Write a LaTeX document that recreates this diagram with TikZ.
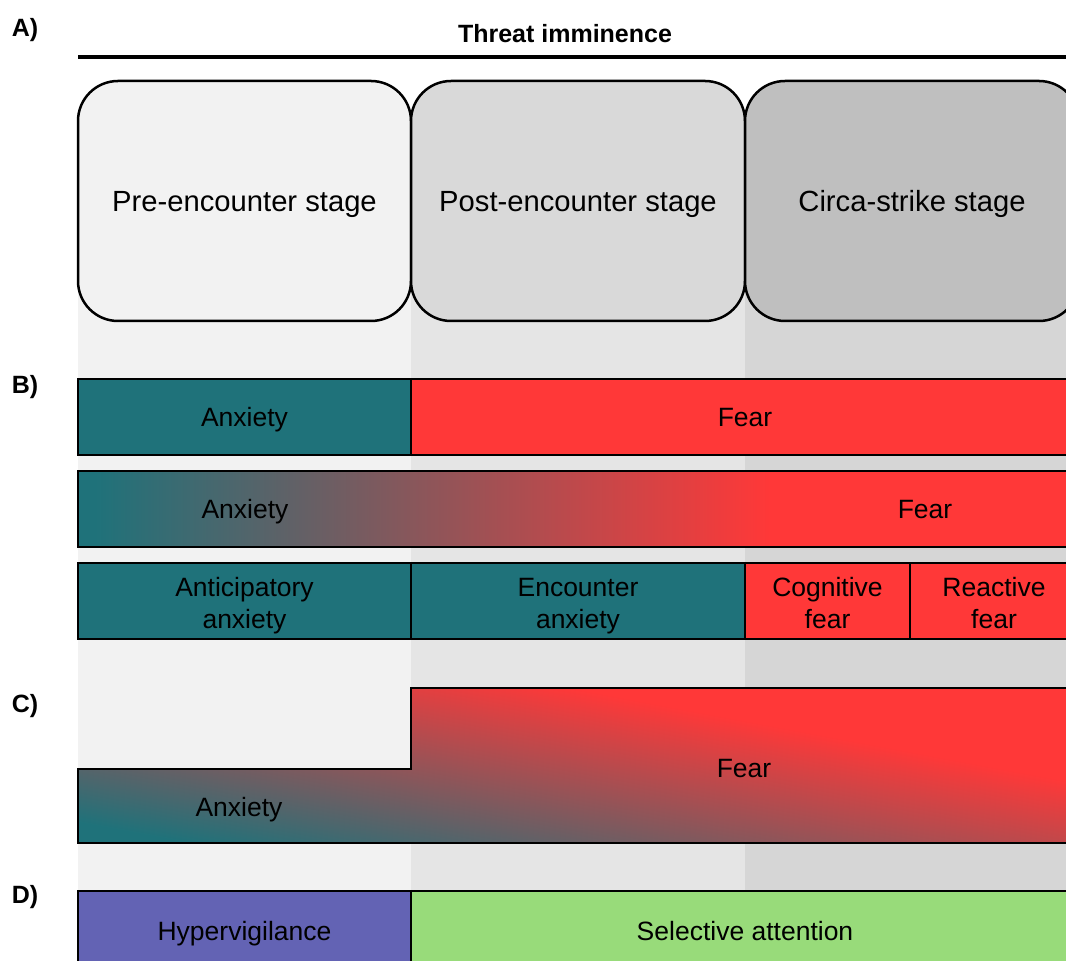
\documentclass[tikz,border=0pt]{standalone}
\usepackage{fontspec}
\setmainfont{Liberation Sans}
\usetikzlibrary{arrows.meta}
\definecolor{tealc}{RGB}{31,114,122}
\definecolor{redc}{RGB}{255,56,56}
\definecolor{purplec}{RGB}{99,99,180}
\definecolor{greenc}{RGB}{152,219,122}
\definecolor{bgA}{RGB}{242,242,242}
\definecolor{bgB}{RGB}{229,229,229}
\definecolor{bgC}{RGB}{214,214,214}
\definecolor{stA}{RGB}{242,242,242}
\definecolor{stB}{RGB}{217,217,217}
\definecolor{stC}{RGB}{191,191,191}
\begin{document}
\begin{tikzpicture}[x=1pt,y=1pt,
  stagebox/.style={draw=black, line width=2.5, rounded corners=40, minimum height=240, inner sep=0, text depth=0pt, font=\fontsize{29.2}{34}\selectfont},
  bar/.style={draw=black, line width=2.5, minimum height=76, inner sep=0, text depth=0pt, align=center, font=\fontsize{26.5}{31.7}\selectfont},
  twoline/.style={text height=54.5pt},
  lbl/.style={font=\fontsize{26.5}{32}\selectfont, inner sep=0, text depth=0pt},
  panel/.style={font=\bfseries\fontsize{25}{30}\selectfont, inner sep=0},
  edge/.style={draw=black, line width=2.5}]
\useasboundingbox (0,0) rectangle (1066,961);
% column backgrounds
\fill[bgA] (78,0) rectangle (411,760);
\fill[bgB] (411,0) rectangle (745,760);
\fill[bgC] (745,0) rectangle (1066,760);
% threat imminence axis
\coordinate (ts) at (78,904);
\coordinate (te) at (1084,904);
\draw[line width=3.5, -{Triangle[length=18,width=16]}] (ts) -- (te);
\node[panel] (thr) at (565,927) {Threat imminence};
% A) stages
\node[stagebox, fill=stA, minimum width=333] (pre) at (244.5,760) {Pre-encounter stage};
\node[stagebox, fill=stB, minimum width=334] (post) at (578,760) {Post-encounter stage};
\node[stagebox, fill=stC, minimum width=334] (circa) at (912,760) {Circa-strike stage};
% B) row 1
\node[bar, fill=tealc, minimum width=333] (b1a) at (244.5,544) {Anxiety};
\node[bar, fill=redc, minimum width=668] (b1f) at (745,544) {Fear};
% B) row 2
\begin{scope}
\clip (78,414) rectangle (1079,490);
\fill[redc] (78,414) rectangle (1079,490);
\fill[tealc] (78,414) rectangle (96,490);
\shade[left color=tealc, right color=redc] (95,414) rectangle (770,490);
\end{scope}
\draw[edge] (78,414) rectangle (1079,490);
\node[lbl] (b2a) at (245,452) {Anxiety};
\node[lbl] (b2f) at (925,452) {Fear};
% B) row 3
\node[bar, twoline, fill=tealc, minimum width=333] (b3a) at (244.5,360) {Anticipatory\\anxiety};
\node[bar, twoline, fill=tealc, minimum width=334] (b3b) at (578,360) {Encounter\\anxiety};
\node[bar, twoline, fill=redc, minimum width=165] (b3c) at (827.5,360) {Cognitive\\fear};
\node[bar, twoline, fill=redc, minimum width=168] (b3d) at (994,360) {Reactive\\fear};
% C) step shape
\begin{scope}
\clip (78,118) -- (78,192) -- (411,192) -- (411,273) -- (1079,273) -- (1079,118) -- cycle;
\begin{scope}[transform canvas={shift={(381,195.5)}, rotate=-10.6}]
\fill[redc] (-1400,-900) rectangle (1400,900);
\fill[tealc] (-1400,-900) rectangle (1400,-110.5);
\shade[bottom color=tealc, top color=redc] (-1400,-111.5) rectangle (1400,111.5);
\end{scope}
\end{scope}
\draw[edge, line join=miter] (78,118) -- (78,192) -- (411,192) -- (411,273) -- (1079,273) -- (1079,118) -- cycle;
\node[lbl] (cA) at (239,154) {Anxiety};
\node[lbl] (cF) at (744,193) {Fear};
% D)
\node[bar, fill=purplec, minimum width=333, minimum height=80] (dH) at (244.5,30) {Hypervigilance};
\node[bar, fill=greenc, minimum width=668, minimum height=80] (dS) at (745,30) {Selective attention};
% panel labels
\node[panel] (pA) at (25,931) {A)};
\node[panel] (pB) at (25,574) {B)};
\node[panel] (pC) at (25,255) {C)};
\node[panel] (pD) at (25,64) {D)};
\end{tikzpicture}
\end{document}
